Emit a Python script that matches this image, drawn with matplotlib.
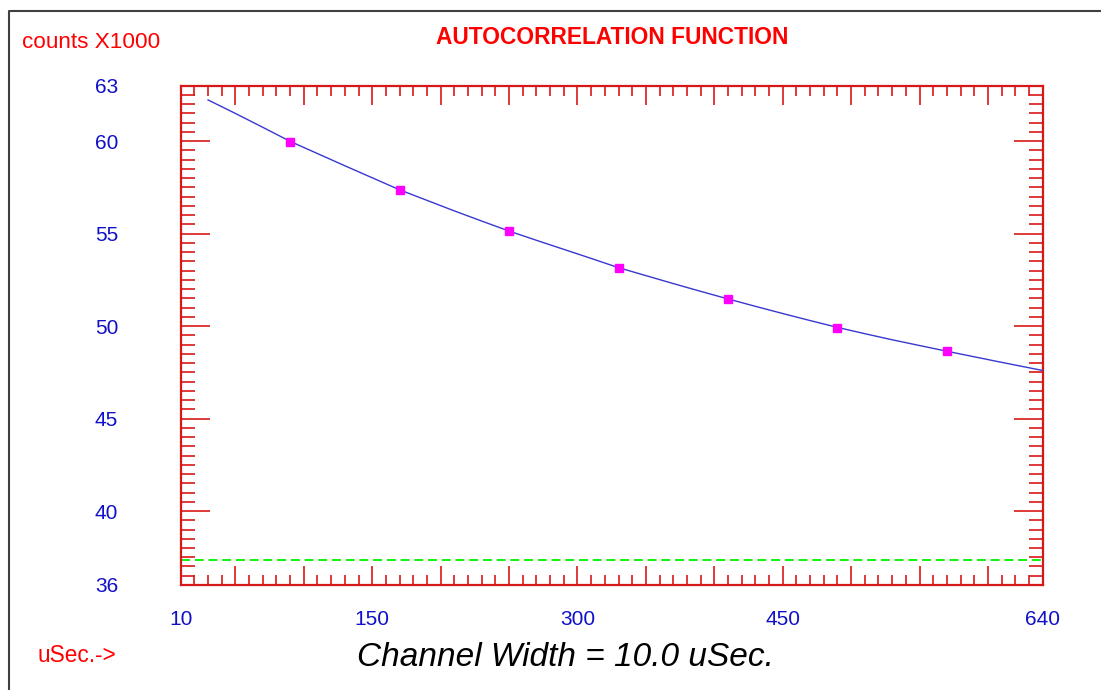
import numpy as np
import matplotlib.pyplot as plt
from matplotlib.lines import Line2D
from matplotlib.ticker import MultipleLocator

plt.rcParams['font.family'] = ['Liberation Sans', 'DejaVu Sans']

# measured points (channel, counts x1000)
pt_x = [90, 170, 250, 330, 410, 490, 570]
pt_y = [59.97, 57.36, 55.13, 53.14, 51.47, 49.92, 48.64]

# fitted curve
fit_x = [30, 50, 70, 90, 110, 130, 150, 170, 190, 210, 230, 250, 270, 290,
         310, 330, 350, 370, 390, 410, 430, 450, 470, 490, 510, 530, 550,
         570, 590, 610, 640]
fit_y = [62.23, 61.5, 60.75, 59.99, 59.33, 58.67, 58.02, 57.37, 56.8, 56.23,
         55.68, 55.14, 54.64, 54.15, 53.66, 53.16, 52.73, 52.3, 51.88, 51.47,
         51.07, 50.68, 50.3, 49.93, 49.59, 49.26, 48.95, 48.64, 48.34, 48.04,
         47.6]

baseline = 37.34

x_ticks = [10, 150, 300, 450, 640]
y_ticks = [36, 40, 45, 50, 55, 60, 63]

RED = '#d81818'
BLUE = '#1010c8'

fig = plt.figure(figsize=(11.01, 6.9), dpi=100)
ax = fig.add_axes([0.1641, 0.1522, 0.7829, 0.7236])

ax.plot(fit_x, fit_y, color='#3838d0', lw=1.0, zorder=3)
ax.plot(pt_x, pt_y, ls='none', marker='s', ms=6, color='#ff00ff', zorder=4)
ax.axhline(baseline, color='#00f000', lw=1.3, ls=(0, (5, 2.6)), zorder=2)

ax.set_xlim(10, 640)
ax.set_ylim(36, 63)

for s in ax.spines.values():
    s.set_color(RED)
    s.set_linewidth(1.6)

# major ticks every 50 / 5, minor every 10 / 0.5
xmaj = [10] + list(range(50, 601, 50)) + [640]
ax.set_xticks(xmaj)
ax.set_xticklabels([str(v) if v in x_ticks else '' for v in xmaj])
ax.xaxis.set_minor_locator(MultipleLocator(10))
ax.set_yticks(y_ticks)
ax.set_yticklabels([str(v) for v in y_ticks])
ax.yaxis.set_minor_locator(MultipleLocator(0.5))

ax.tick_params(axis='x', which='major', direction='in', length=14, width=1.2,
               color=RED, top=True, bottom=True, labelcolor=BLUE,
               labelsize=15, pad=18)
ax.tick_params(axis='x', which='minor', direction='in', length=7, width=1.2,
               color=RED, top=True, bottom=True)
ax.tick_params(axis='y', which='major', direction='in', length=21, width=1.2,
               color=RED, left=True, right=True, labelcolor=BLUE,
               labelsize=15, pad=45)
ax.tick_params(axis='y', which='minor', direction='in', length=10, width=1.2,
               color=RED, left=True, right=True)

fig.text(0.5556, 0.945, 'AUTOCORRELATION FUNCTION', color='#ff0000',
         fontsize=16.4, fontweight='bold', ha='center', va='center')
fig.text(0.020, 0.939, 'counts X1000', color='#ff0000', fontsize=16.2,
         ha='left', va='center')
fig.text(0.0345, 0.0507, 'uSec.->', color='#ff0000', fontsize=16.3,
         ha='left', va='center')
fig.text(0.514, 0.0478, 'Channel Width = 10.0 uSec.', color='black',
         fontsize=24, style='italic', ha='center', va='center')

# outer frame (left and top edges visible)
fx = 9 / 1101
fy = 1 - 11 / 690
fig.add_artist(Line2D([fx, fx, 1.0], [0.0, fy, fy], color='#404040', lw=1.5,
                      transform=fig.transFigure))

fig.savefig('out.png', dpi=100)
